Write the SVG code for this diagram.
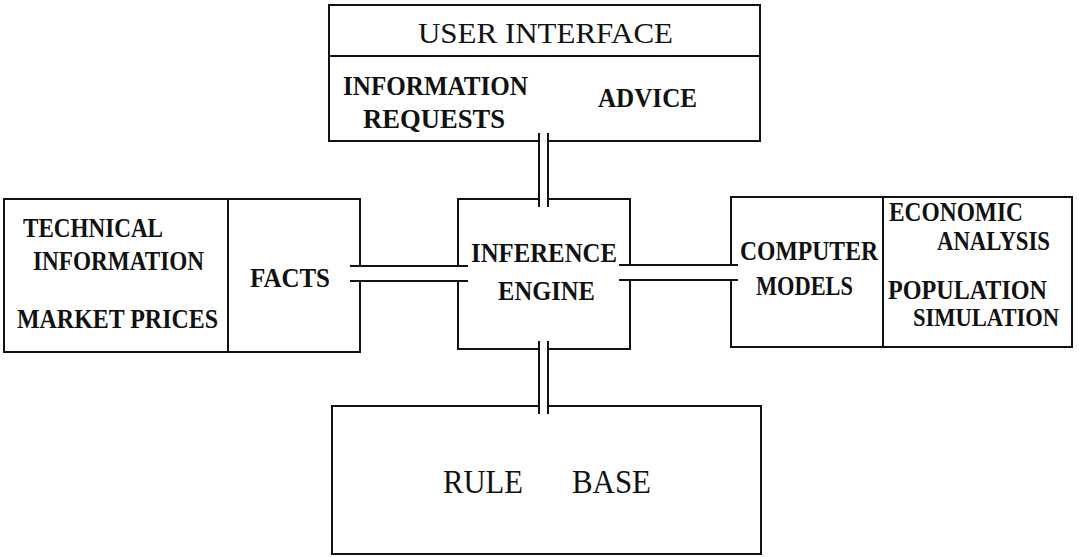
<svg xmlns="http://www.w3.org/2000/svg" width="1079" height="557" viewBox="0 0 1079 557">
  <style>
    .box { fill: none; stroke: #111; stroke-width: 2; }
    .wire { fill: none; stroke: #111; stroke-width: 2; }
    .lbl { font-family: "Liberation Serif", "DejaVu Serif", serif; font-weight: bold; font-size: 27px; fill: #111; }
    .big { font-family: "Liberation Serif", "DejaVu Serif", serif; font-size: 29px; fill: #111; }
    .huge { font-family: "Liberation Serif", "DejaVu Serif", serif; font-size: 34px; fill: #111; }
  </style>
  <rect width="1079" height="557" fill="#fff"/>

  <!-- User interface: header row above the two message kinds -->
  <g id="user-interface">
    <path class="box" d="M539,141 H329 V5 H760 V141 H548"/>
    <line class="box" x1="329" y1="56" x2="760" y2="56"/>
    <text class="big" x="418" y="43" textLength="255" lengthAdjust="spacingAndGlyphs">USER INTERFACE</text>
    <text class="lbl" x="343" y="95" textLength="185" lengthAdjust="spacingAndGlyphs">INFORMATION</text>
    <text class="lbl" x="363" y="128" textLength="142" lengthAdjust="spacingAndGlyphs">REQUESTS</text>
    <text class="lbl" x="598" y="107" textLength="99" lengthAdjust="spacingAndGlyphs">ADVICE</text>
  </g>

  <!-- Facts store with its data sources -->
  <g id="facts">
    <path class="box" d="M360,266 V199 H4 V352 H360 V281"/>
    <line class="box" x1="228" y1="199" x2="228" y2="352"/>
    <text class="lbl" x="23" y="237" textLength="140" lengthAdjust="spacingAndGlyphs">TECHNICAL</text>
    <text class="lbl" x="33" y="270" textLength="171" lengthAdjust="spacingAndGlyphs">INFORMATION</text>
    <text class="lbl" x="17" y="328" textLength="201" lengthAdjust="spacingAndGlyphs">MARKET PRICES</text>
    <text class="lbl" x="250" y="287" textLength="80" lengthAdjust="spacingAndGlyphs">FACTS</text>
  </g>

  <!-- Inference engine, open on all four sides for the links -->
  <g id="inference-engine">
    <path class="box" d="M539,199 H458 V266 M458,281 V349 H539 M548,349 H630 V281 M630,265 V199 H548"/>
    <text class="lbl" x="471" y="262" textLength="146" lengthAdjust="spacingAndGlyphs">INFERENCE</text>
    <text class="lbl" x="498" y="300" textLength="97" lengthAdjust="spacingAndGlyphs">ENGINE</text>
  </g>

  <!-- Computer models with the analyses they run -->
  <g id="computer-models">
    <path class="box" d="M731,265 V197 H1072 V347 H731 V280"/>
    <line class="box" x1="883" y1="197" x2="883" y2="347"/>
    <text class="lbl" x="740" y="260" textLength="138" lengthAdjust="spacingAndGlyphs">COMPUTER</text>
    <text class="lbl" x="756" y="295" textLength="97" lengthAdjust="spacingAndGlyphs">MODELS</text>
    <text class="lbl" x="889" y="221" textLength="134" lengthAdjust="spacingAndGlyphs">ECONOMIC</text>
    <text class="lbl" x="937" y="250" textLength="113" lengthAdjust="spacingAndGlyphs">ANALYSIS</text>
    <text class="lbl" x="888" y="299" textLength="159" lengthAdjust="spacingAndGlyphs">POPULATION</text>
    <text class="lbl" x="913" y="326" style="font-size:25px" textLength="146" lengthAdjust="spacingAndGlyphs">SIMULATION</text>
  </g>

  <!-- Rule base -->
  <g id="rule-base">
    <path class="box" d="M539,406 H332 V554 H761 V406 H548"/>
    <text class="huge" x="443" y="493" textLength="80" lengthAdjust="spacingAndGlyphs">RULE</text>
    <text class="huge" x="572" y="493" textLength="79" lengthAdjust="spacingAndGlyphs">BASE</text>
  </g>

  <!-- Double-line links between the engine and each part -->
  <g id="connectors">
    <line class="wire" x1="539" y1="133" x2="539" y2="207"/>
    <line class="wire" x1="548" y1="133" x2="548" y2="207"/>
    <line class="wire" x1="350" y1="266" x2="468" y2="266"/>
    <line class="wire" x1="350" y1="281" x2="468" y2="281"/>
    <line class="wire" x1="619" y1="265" x2="738" y2="265"/>
    <line class="wire" x1="619" y1="280" x2="738" y2="280"/>
    <line class="wire" x1="539" y1="341" x2="539" y2="414"/>
    <line class="wire" x1="548" y1="341" x2="548" y2="414"/>
  </g>
</svg>
